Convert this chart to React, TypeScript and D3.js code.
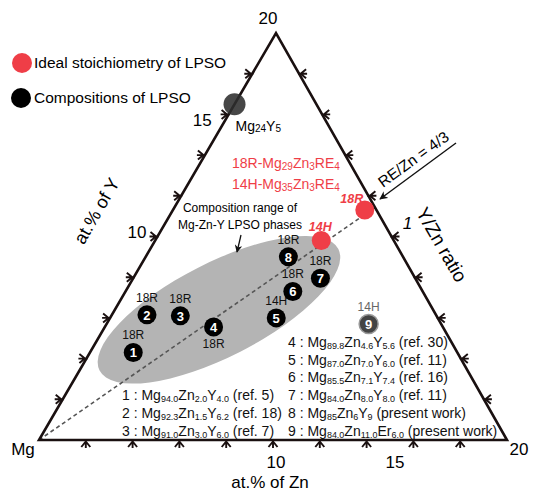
import * as d3 from "d3";

const compIds = ["1", "2", "3", "4", "5", "6", "7", "8", "9"];
const compZn = [1.85, 1.5, 2.95, 4.65, 7.1, 7.15, 8.0, 6.1, 11.2];
const compY = [4.3, 6.15, 6.1, 5.55, 6.0, 7.3, 7.95, 9.0, 5.7];
const compType = ["18R", "18R", "18R", "18R", "14H", "18R", "18R", "18R", "14H"];
const compMgTxt = ["94.0", "92.3", "91.0", "89.8", "87.0", "85.5", "84.0", "85", "84.0"];
const compZnTxt = ["2.0", "1.5", "3.0", "4.6", "7.0", "7.1", "8.0", "6", "11.0"];
const compRETxt = ["4.0", "6.2", "6.0", "5.6", "6.0", "7.4", "8.0", "9", "6.0"];
const compRE = ["Y", "Y", "Y", "Y", "Y", "Y", "Y", "Y", "Er"];
const compRef = ["(ref. 5)", "(ref. 18)", "(ref. 7)", "(ref. 30)", "(ref. 11)", "(ref. 16)", "(ref. 11)", "(present work)", "(present work)"];

const idealNames = ["18R", "14H"];
const idealMgSub = ["29", "35"];
const idealZn = [8.2, 7.1];
const idealY = [11.3, 9.8];

const mg24y5 = { zn: 0, y: 16.5 };
const reZnRatio = 4 / 3;
const axisMax = 20;
const tickValues = d3.range(2, 20, 2);

const W = 538, H = 496;
const VMG: [number, number] = [39, 440];
const VZN: [number, number] = [507, 440];
const VY: [number, number] = [276, 33];
const FONT = "'Liberation Sans', Arial, sans-serif";
const RED = "#ef3e47";
const INK = "#1a1010";

const frac = d3.scaleLinear().domain([0, axisMax]).range([0, 1]);
function proj(zn: number, y: number): [number, number] {
  const a = frac(zn), b = frac(y);
  return [
    VMG[0] + a * (VZN[0] - VMG[0]) + b * (VY[0] - VMG[0]),
    VMG[1] + a * (VZN[1] - VMG[1]) + b * (VY[1] - VMG[1]),
  ];
}

// small arrow tick sitting outside the edge, pointing inward along v
function tickPath(p: [number, number], v: [number, number]) {
  const q: [number, number] = [-v[1], v[0]];
  const pt = (back: number, side: number) => `${p[0] - v[0] * back + q[0] * side},${p[1] - v[1] * back + q[1] * side}`;
  return `M${pt(-1, 0)}L${pt(8, 0)}M${pt(7, -4.5)}L${pt(1.5, 0)}L${pt(7, 4.5)}`;
}

function Formula({ x, y, i, size = 14 }: { x: number; y: number; i: number; size?: number }) {
  const sub = size * 0.64;
  return (
    <text x={x} y={y} fontSize={size} fontFamily={FONT} fill="#111">
      {`${compIds[i]} : Mg`}
      <tspan fontSize={sub} dy={2}>{compMgTxt[i]}</tspan>
      <tspan dy={-2}>Zn</tspan>
      <tspan fontSize={sub} dy={2}>{compZnTxt[i]}</tspan>
      <tspan dy={-2}>{compRE[i]}</tspan>
      <tspan fontSize={sub} dy={2}>{compRETxt[i]}</tspan>
      <tspan dy={-2}>{` ${compRef[i]}`}</tspan>
    </text>
  );
}

export default function App() {
  const tri = d3.line()([VMG, VZN, VY, VMG]) + "Z";

  const ticks: string[] = [];
  tickValues.forEach((t) => {
    ticks.push(tickPath(proj(t, 0), [0, -1]));
    ticks.push(tickPath(proj(0, t), [1, 0]));
    ticks.push(tickPath(proj(axisMax - t, t), [-1, 0]));
  });

  const zEnd = axisMax / (1 + reZnRatio);
  const dash = d3.line()([proj(0, 0), proj(zEnd, zEnd * reZnRatio)]);

  const ellC = proj(4.45, 6.4);
  const mgP = proj(mg24y5.zn, mg24y5.y);
  const one = proj(10, 10);

  return (
    <svg width={W} height={H} style={{ position: "absolute", left: 0, top: 0, background: "#fff" }} fontFamily={FONT}>
      <defs>
        <marker id="ah" viewBox="0 0 10 10" refX={9} refY={5} markerWidth={6} markerHeight={6} orient="auto">
          <path d="M0,0L10,5L0,10L3,5Z" fill="#111" />
        </marker>
      </defs>

      {/* composition range */}
      <ellipse cx={ellC[0]} cy={ellC[1]} rx={134} ry={47} fill="#b4b4b4" transform={`rotate(-27 ${ellC[0]} ${ellC[1]})`} />

      <path d={dash!} stroke="#555" strokeWidth={1.6} strokeDasharray="4,3" fill="none" />

      <path d={tri} fill="none" stroke={INK} strokeWidth={2.6} strokeLinejoin="miter" />
      <path d={ticks.join("")} fill="none" stroke={INK} strokeWidth={1.9} />

      {/* axis labels */}
      <text x={VY[0] - 8} y={24} fontSize={17} textAnchor="middle">20</text>
      <text x={519} y={455} fontSize={17} textAnchor="middle">20</text>
      <text x={23} y={455} fontSize={17} textAnchor="middle">Mg</text>
      <text x={proj(10, 0)[0] + 3} y={468} fontSize={17} textAnchor="middle">10</text>
      <text x={proj(15, 0)[0] + 5} y={468} fontSize={17} textAnchor="middle">15</text>
      <text x={proj(0, 10)[0] - 11} y={proj(0, 10)[1] + 1} fontSize={17} textAnchor="end">10</text>
      <text x={proj(0, 15)[0] - 5} y={proj(0, 15)[1] - 9} fontSize={17} textAnchor="end">15</text>
      <text x={270} y={488} fontSize={17} textAnchor="middle">at.% of Zn</text>
      <text x={0} y={0} fontSize={18} textAnchor="middle" transform="translate(102,214) rotate(-60)">at.% of Y</text>
      <text x={0} y={0} fontSize={19} textAnchor="middle" transform="translate(436,248) rotate(60)">Y/Zn ratio</text>
      <text x={one[0] + 16} y={one[1] - 8} fontSize={17} fontStyle="italic" textAnchor="middle">1</text>

      {/* RE/Zn arrow */}
      <line x1={456} y1={143} x2={380} y2={199} stroke="#111" strokeWidth={1.4} markerEnd="url(#ah)" />
      <text x={0} y={0} fontSize={15.5} textAnchor="middle" transform="translate(416.5,163.5) rotate(-36)">RE/Zn = 4/3</text>

      {/* legend */}
      <circle cx={22} cy={63} r={10} fill={RED} />
      <text x={34} y={68} fontSize={15.5}>Ideal stoichiometry of LPSO</text>
      <circle cx={21} cy={98} r={10} fill="#000" />
      <text x={34} y={103} fontSize={15.5}>Compositions of LPSO</text>

      {/* Mg24Y5 */}
      <circle cx={mgP[0]} cy={mgP[1]} r={11} fill="#2e2e2e" opacity={0.88} />
      <text x={mgP[0] + 1} y={mgP[1] + 27} fontSize={14}>
        Mg<tspan fontSize={10} dy={1}>24</tspan><tspan dy={-1}>Y</tspan><tspan fontSize={10} dy={1}>5</tspan>
      </text>

      {/* red formulas */}
      {idealNames.map((nm, k) => (
        <text key={nm} x={232} y={168 + k * 21} fontSize={14} fill={RED}>
          {`${nm}-Mg`}
          <tspan fontSize={10} dy={2}>{idealMgSub[k]}</tspan>
          <tspan dy={-2}>Zn</tspan>
          <tspan fontSize={10} dy={2}>3</tspan>
          <tspan dy={-2}>RE</tspan>
          <tspan fontSize={10} dy={2}>4</tspan>
        </text>
      ))}

      {/* composition range note */}
      <text x={240} y={212} fontSize={12} textAnchor="middle">Composition range of</text>
      <text x={240} y={229} fontSize={12} textAnchor="middle">Mg-Zn-Y LPSO phases</text>
      <line x1={241} y1={235} x2={237} y2={252} stroke="#111" strokeWidth={1.3} markerEnd="url(#ah)" />

      {/* ideal points */}
      {idealNames.map((nm, k) => {
        const p = proj(idealZn[k], idealY[k]);
        return (
          <g key={nm}>
            <circle cx={p[0]} cy={p[1]} r={9.5} fill={RED} />
            <text x={p[0] - (k === 0 ? 13 : 1)} y={p[1] - (k === 0 ? 7 : 10)} fontSize={12.5} fontWeight="bold" fontStyle="italic" fill={RED} textAnchor="middle">{nm}</text>
          </g>
        );
      })}

      {/* composition points */}
      {compIds.map((id, i) => {
        const p = proj(compZn[i], compY[i]);
        const gray = i === 8;
        const below = i === 3;
        return (
          <g key={id}>
            <circle cx={p[0]} cy={p[1]} r={9.5} fill={gray ? "#444" : "#000"} stroke={gray ? "#999" : "none"} strokeWidth={1.5} />
            <text x={p[0]} y={p[1] + 5} fontSize={13} fontWeight="bold" fill="#fff" textAnchor="middle">{id}</text>
            <text x={p[0]} y={below ? p[1] + 21 : p[1] - 13} fontSize={12} fill={gray ? "#666" : "#111"} textAnchor="middle">{compType[i]}</text>
          </g>
        );
      })}

      {/* composition list */}
      {[0, 1, 2].map((i) => <Formula key={i} x={122} y={400 + i * 18} i={i} />)}
      {[3, 4, 5, 6, 7, 8].map((i, k) => <Formula key={i} x={288} y={347 + k * 17.7} i={i} />)}
    </svg>
  );
}
